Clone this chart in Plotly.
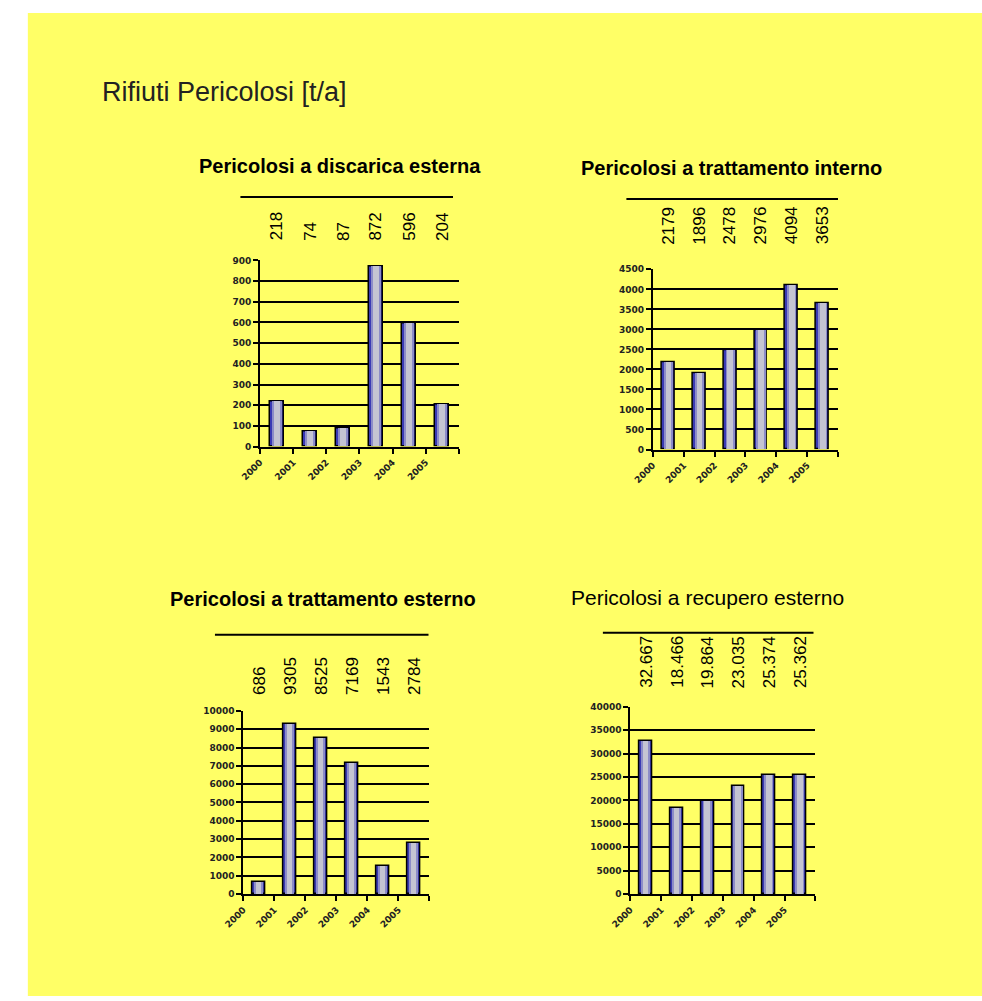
import plotly.graph_objects as go

# ---- data -------------------------------------------------------------
years = [2000, 2001, 2002, 2003, 2004, 2005]

discarica_esterna = [218, 74, 87, 872, 596, 204]
trattamento_interno = [2179, 1896, 2478, 2976, 4094, 3653]
trattamento_esterno = [686, 9305, 8525, 7169, 1543, 2784]
recupero_esterno = [32667, 18466, 19864, 23035, 25374, 25362]

titles = [
    "Pericolosi a discarica esterna",
    "Pericolosi a trattamento interno",
    "Pericolosi a trattamento esterno",
    "Pericolosi a recupero esterno",
]
y_max = [900, 4500, 10000, 40000]
y_step = [100, 500, 1000, 5000]

W, H = 982, 1001


def px(x):
    return x / W


def py(y):
    return 1 - y / H


def fmt_it(v):
    return f"{v:,}".replace(",", ".")


# panel geometry in pixels: plot-area box, title position, rule, label baseline
panels = [
    dict(vals=discarica_esterna, box=(245, 448, 258, 446), title=(327, 163, True),
         rule=(225, 442, 194), lab_bottom=240, fmt=str),
    dict(vals=trattamento_interno, box=(646, 835, 267, 449), title=(726, 165, True),
         rule=(619, 835, 196), lab_bottom=244, fmt=str),
    dict(vals=trattamento_esterno, box=(228, 418, 713, 898), title=(309, 600, True),
         rule=(199, 417, 636), lab_bottom=699, fmt=str),
    dict(vals=recupero_esterno, box=(623, 812, 709, 898), title=(702, 598, False),
         rule=(595, 810, 634), lab_bottom=692, fmt=fmt_it),
]

fig = go.Figure()

# layered bar look: blue outer body, lavender core, pale highlight
layers = [
    dict(width=0.42, color="#3a3ab4", line=dict(color="black", width=1.5)),
    dict(width=0.30, color="#8c8cc8", line=dict(width=0)),
    dict(width=0.18, color="#c4c4d2", line=dict(width=0)),
]

annotations = []
shapes = [
    dict(type="rect", xref="paper", yref="paper", x0=px(8), x1=1.0, y0=0.0, y1=py(8),
         fillcolor="#ffff66", line=dict(width=0), layer="below"),
]

tick_font = dict(family="DejaVu Sans", size=9, color="#222", weight="bold")

for i, p in enumerate(panels):
    n = i + 1
    xa = "x" if n == 1 else f"x{n}"
    ya = "y" if n == 1 else f"y{n}"
    for L in layers:
        fig.add_trace(go.Bar(
            x=years, y=p["vals"], width=L["width"], offset=0.5 - L["width"] / 2,
            marker=dict(color=L["color"], line=L["line"]),
            xaxis=xa, yaxis=ya, showlegend=False, hoverinfo="x+y",
        ))

    x0, x1, y0, y1 = p["box"]
    fig.layout[f"xaxis{'' if n == 1 else n}"] = dict(
        domain=[px(x0), px(x1)], anchor=ya,
        range=[years[0], years[-1] + 1],
        tickvals=years + [years[-1] + 1],
        ticktext=[str(y) for y in years] + [""],
        tickangle=-45, ticks="outside", ticklen=5, tickwidth=2, tickcolor="black",
        showline=True, linecolor="black", linewidth=2,
        showgrid=False, zeroline=False, tickfont=tick_font, fixedrange=True,
    )
    fig.layout[f"yaxis{'' if n == 1 else n}"] = dict(
        domain=[py(y1), py(y0)], anchor=xa,
        range=[0, y_max[i]], dtick=y_step[i], tick0=0, tickformat="d",
        ticks="outside", ticklen=5, tickwidth=2, tickcolor="black",
        showline=True, linecolor="black", linewidth=2,
        showgrid=True, gridcolor="black", gridwidth=2, zeroline=False,
        tickfont=tick_font, fixedrange=True,
    )

    # panel title
    tx, ty, bold = p["title"]
    annotations.append(dict(
        text=titles[i], xref="paper", yref="paper", x=px(tx), y=py(ty),
        xanchor="center", yanchor="middle", showarrow=False,
        font=dict(family="Liberation Sans, Arial", size=20 if bold else 21,
                  color="black", weight="bold" if bold else "normal"),
    ))

    # rule above the value row
    rx0, rx1, ry = p["rule"]
    shapes.append(dict(type="line", xref="paper", yref="paper",
                       x0=px(rx0), x1=px(rx1), y0=py(ry), y1=py(ry),
                       line=dict(color="black", width=2)))

    # vertical value labels
    for yr, v in zip(years, p["vals"]):
        annotations.append(dict(
            text=p["fmt"](v), xref=xa, yref="paper", x=yr + 0.5, y=py(p["lab_bottom"]),
            xanchor="center", yanchor="bottom", textangle=-90, showarrow=False,
            font=dict(family="Liberation Sans, Arial", size=17, color="black"),
        ))

# page title
annotations.append(dict(
    text="Rifiuti Pericolosi [t/a]", xref="paper", yref="paper",
    x=px(82), y=py(88), xanchor="left", yanchor="middle", showarrow=False,
    font=dict(family="Liberation Sans, Arial", size=27, color="#222"),
))

fig.update_layout(
    width=W, height=H, margin=dict(l=0, r=0, t=0, b=0),
    paper_bgcolor="white", plot_bgcolor="rgba(0,0,0,0)",
    barmode="overlay", bargap=0,
    annotations=annotations, shapes=shapes,
)

fig.write_html(
    "out.html",
    config=dict(displayModeBar=False),
    post_script="document.body.style.margin='0';document.body.style.overflow='hidden';",
)
